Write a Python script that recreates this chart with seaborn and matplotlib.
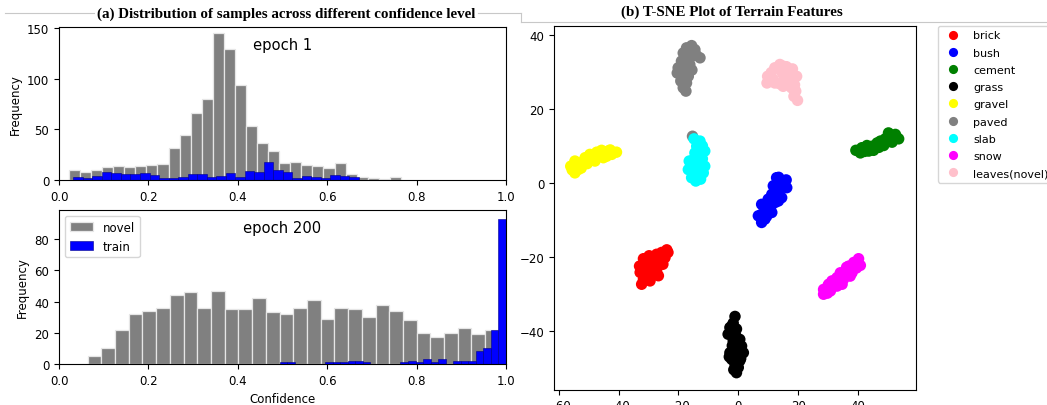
import numpy as np
import pandas as pd
import matplotlib
matplotlib.use("Agg")
import matplotlib.pyplot as plt
import seaborn as sns
from matplotlib.lines import Line2D

# Histogramas: contagens por bin
e1_novel = [10, 8, 10, 13, 14, 13, 14, 15, 16, 32, 44, 66, 80, 145, 130,
            94, 53, 37, 29, 17, 18, 15, 14, 12, 17, 6, 3, 2, 1, 3]
e1_novel_range = (0.022, 0.765)
e1_train = [3, 2, 4, 8, 7, 6, 6, 7, 5, 2, 2, 3, 6, 6, 3,
            4, 7, 3, 9, 8, 18, 10, 8, 2, 4, 3, 2, 5, 4, 3]
e1_train_range = (0.032, 0.671)

e200_novel = [5, 10, 22, 32, 34, 36, 44, 46, 36, 47, 35, 35, 42, 33, 32,
              36, 41, 29, 36, 35, 30, 38, 34, 28, 20, 17, 20, 23, 19, 22]
e200_novel_range = (0.064, 0.984)
e200_train = [1, 1, 0, 0, 0, 0, 1, 1, 1, 2, 2, 1, 0, 0, 0,
              0, 1, 2, 1, 3, 1, 3, 0, 2, 2, 2, 8, 10, 22, 93]
e200_train_range = (0.494, 1.0)

# T-SNE: pontos de cada classe
brick_x = [-23.9, -25.6, -27.3, -24.5, -26.1, -28.4, -30.6, -31.7, -28.9, -31.2, -32.8, -30.0, -27.3, -31.7, -29.5, -32.3, -26.7, -28.4,
           -29.5, -27.5, -25.2, -30.8, -33.0, -23.5, -28.0, -29.8]
brick_y = [-18.1, -18.8, -19.3, -20.2, -21.1, -20.6, -21.5, -20.5, -22.4, -23.3, -24.2, -24.7, -23.8, -26.0, -26.5, -27.4, -25.1, -22.9,
           -23.5, -21.8, -22.0, -25.5, -22.5, -18.8, -24.8, -19.7]
bush_x = [12.8, 15.1, 16.2, 11.7, 13.7, 11.2, 14.5, 10.0, 12.3, 7.8, 9.5, 11.2, 7.8, 6.7, 8.9, 7.8, 13.4,
          14.0, 12.5, 10.8, 9.5, 16.0, 13.5]
bush_y = [1.4, 0.5, -1.3, -0.8, -2.2, -3.1, -4.0, -4.4, -5.3, -5.8, -6.7, -8.0, -8.5, -8.9, -9.8, -10.7, -4.9,
          -0.5, -2.8, -6.6, -9.0, 0.8, 1.5]
cement_x = [39.3, 41.3, 43.0, 40.8, 44.7, 46.4, 45.2, 47.5, 49.1, 48.6, 50.8, 52.5, 53.6, 51.4, 43.6, 50.2,
            42.2, 45.8, 48.0, 50.5, 52.8, 47.0]
cement_y = [8.8, 9.5, 10.1, 8.1, 9.9, 10.8, 8.8, 11.3, 11.9, 10.1, 12.6, 13.1, 11.9, 11.0, 8.6, 13.5,
            8.5, 9.8, 10.4, 11.2, 12.5, 9.6]
grass_x = [-1.1, -1.7, -2.8, -0.6, -3.4, -0.8, 0.5, -1.7, 1.1, -1.1, -2.8, 1.7, -0.6, -2.2, 0.5, -1.1, 0.0, -0.6,
           -2.0, 0.8, -1.5, -2.0, 0.2, -3.0]
grass_y = [-36.1, -37.9, -39.1, -39.5, -40.9, -41.4, -42.3, -42.7, -44.1, -44.5, -45.9, -45.9, -46.8, -47.7, -48.1, -49.0, -49.9, -51.3,
           -44.0, -47.5, -50.5, -38.5, -44.8, -47.0]
gravel_x = [-56.0, -54.6, -53.5, -52.9, -51.2, -49.6, -47.9, -47.3, -45.7, -45.1, -43.5, -42.3, -40.7, -48.5, -54.6, -44.0,
            -50.5, -46.2, -42.8, -55.5, -52.5, -48.8]
gravel_y = [4.5, 5.9, 3.6, 5.4, 6.8, 7.7, 5.9, 8.3, 8.8, 6.8, 8.6, 7.7, 8.3, 7.2, 2.7, 7.2,
            5.2, 7.2, 8.9, 3.5, 4.0, 6.2]
paved_x = [-15.6, -14.5, -17.3, -18.4, -15.1, -12.8, -16.7, -19.0, -20.1, -17.8, -16.2, -20.4, -18.4, -16.7, -19.0, -17.3, -18.4, -17.5, -15.3,
           -16.0, -17.5, -15.5, -19.2, -14.0, -17.8]
paved_y = [37.1, 36.0, 36.5, 35.1, 34.4, 33.8, 33.3, 32.9, 31.1, 31.5, 32.0, 29.7, 29.7, 28.8, 27.9, 27.0, 25.7, 24.8, 12.6,
           35.0, 30.5, 30.5, 27.5, 34.5, 33.8]
slab_x = [-14.8, -12.8, -13.9, -12.3, -11.2, -14.5, -13.9, -16.4, -15.1, -12.3, -11.2, -11.7, -14.5, -15.6, -12.8, -14.2, -16.7, -13.4,
          -13.2, -12.0, -14.8, -12.0, -13.6, -12.6]
slab_y = [11.9, 11.3, 9.9, 8.8, 8.6, 8.1, 6.8, 5.9, 5.0, 5.4, 4.5, 2.7, 2.7, 1.4, 1.4, 0.5, 3.6, 4.1,
          10.8, 10.0, 6.5, 6.5, 3.0, 1.0]
snow_x = [40.2, 38.6, 40.8, 36.9, 35.8, 38.0, 34.1, 33.0, 35.2, 31.3, 30.2, 33.0, 28.5, 30.8, 28.5, 34.7, 37.4,
          39.5, 37.0, 32.5, 30.0, 36.2, 29.8]
snow_y = [-20.5, -21.5, -22.3, -22.5, -23.8, -24.3, -24.3, -25.6, -26.0, -26.5, -27.4, -27.9, -28.8, -29.2, -30.1, -27.4, -25.2,
          -23.0, -24.0, -26.2, -27.8, -22.8, -29.8]
leaves_x = [13.9, 12.2, 16.1, 18.1, 9.8, 11.7, 15.0, 17.2, 19.5, 9.6, 12.2, 15.0, 16.7, 17.8, 19.2, 18.6, 19.8, 16.1,
            14.5, 17.5, 11.0, 13.8, 18.8, 15.2]
leaves_y = [32.0, 31.1, 31.4, 30.8, 28.8, 27.9, 29.3, 28.8, 28.8, 27.0, 27.0, 26.1, 27.5, 25.7, 24.8, 23.4, 22.3, 27.5,
            30.0, 30.0, 29.8, 26.8, 26.5, 31.5]

classes = ['brick', 'bush', 'cement', 'grass', 'gravel', 'paved', 'slab', 'snow', 'leaves(novel)']
class_colors = ['red', 'blue', 'green', 'black', 'yellow', 'gray', 'cyan', 'magenta', 'pink']
class_xs = [brick_x, bush_x, cement_x, grass_x, gravel_x, paved_x, slab_x, snow_x, leaves_x]
class_ys = [brick_y, bush_y, cement_y, grass_y, gravel_y, paved_y, slab_y, snow_y, leaves_y]

tsne = pd.concat([pd.DataFrame({'x': xs, 'y': ys, 'classe': c})
                  for c, xs, ys in zip(classes, class_xs, class_ys)], ignore_index=True)

fig = plt.figure(figsize=(10.47, 4.06), dpi=100)
ax1 = fig.add_axes([0.0564, 0.5542, 0.4269, 0.3776])
ax2 = fig.add_axes([0.0564, 0.1010, 0.4269, 0.3793])
ax3 = fig.add_axes([0.5291, 0.0377, 0.3458, 0.8958])


def hist(ax, counts, rng, color, edge, lw, label):
    edges = np.linspace(rng[0], rng[1], len(counts) + 1)
    df = pd.DataFrame({'conf': (edges[:-1] + edges[1:]) / 2, 'n': counts})
    sns.histplot(data=df, x='conf', weights='n', bins=list(edges), color=color, alpha=1,
                 edgecolor=edge, linewidth=lw, label=label, ax=ax)


# Painel (a)
hist(ax1, e1_novel, e1_novel_range, 'gray', '#e6e6e6', 0.9, 'novel')
hist(ax1, e1_train, e1_train_range, 'blue', '#00008b', 0.4, 'train')
hist(ax2, e200_novel, e200_novel_range, 'gray', '#e6e6e6', 0.9, 'novel')
hist(ax2, e200_train, e200_train_range, 'blue', '#00008b', 0.4, 'train')

for ax, txt in [(ax1, 'epoch 1'), (ax2, 'epoch 200')]:
    ax.set_xlim(0, 1)
    ax.set_ylabel('Frequency', fontsize=8.5)
    ax.set_xlabel('')
    ax.tick_params(labelsize=8.5)
    ax.text(0.5, 0.885, txt, transform=ax.transAxes, ha='center', va='center', fontsize=10.6)
ax1.set_ylim(0, 151.6)
ax1.set_yticks([0, 50, 100, 150])
ax2.set_ylim(0, 98.6)
ax2.set_yticks([0, 20, 40, 60, 80])
ax2.set_xlabel('Confidence', fontsize=8.5)
ax2.legend(loc='upper left', fontsize=8.5)

# Painel (b)
sns.scatterplot(data=tsne, x='x', y='y', hue='classe', hue_order=classes,
                palette=dict(zip(classes, class_colors)), s=68, linewidth=0, ax=ax3)
ax3.set_xlim(-61.6, 59.4)
ax3.set_ylim(-55.9, 42.4)
ax3.set_xticks([-60, -40, -20, 0, 20, 40])
ax3.set_yticks([-40, -20, 0, 20, 40])
ax3.set_xlabel('')
ax3.set_ylabel('')
ax3.tick_params(labelsize=8.5)
sns.move_legend(ax3, 'upper left', bbox_to_anchor=(1.06, 1.0), borderaxespad=0,
                fontsize=8, markerscale=0.8, labelspacing=0.65, handlelength=2.0,
                handletextpad=0.8, borderpad=0.4, title=None)

# Títulos
fig.text(0.273, 0.965, '(a) Distribution of samples across different confidence level',
         ha='center', va='center', fontsize=10.8, fontweight='bold', family='Liberation Serif')
fig.text(0.699, 0.97, '(b) T-SNE Plot of Terrain Features',
         ha='center', va='center', fontsize=10.8, fontweight='bold', family='Liberation Serif')

# Linhas da tabela
lc = '#c8c8c8'
y14 = 1 - 14 / 406
y23 = 1 - 23 / 406
fig.add_artist(Line2D([5 / 1047, 94 / 1047], [y14, y14], color=lc, lw=0.8))
fig.add_artist(Line2D([478 / 1047, 521 / 1047], [y14, y14], color=lc, lw=0.8))
fig.add_artist(Line2D([521 / 1047, 521 / 1047], [y14, y23], color=lc, lw=0.8))
fig.add_artist(Line2D([521 / 1047, 1.0], [y23, y23], color=lc, lw=0.8))

fig.savefig('out.png', dpi=100)
